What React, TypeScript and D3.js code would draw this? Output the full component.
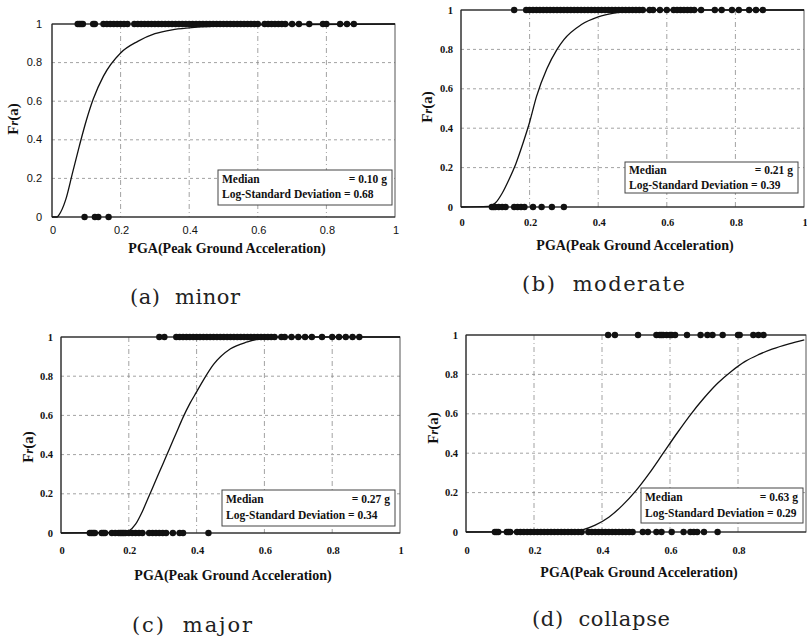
import React from "react";
import * as d3 from "d3";

// ---------- data ----------
const xTickValues = [0, 0.2, 0.4, 0.6, 0.8, 1];
const yTickValues = [0, 0.2, 0.4, 0.6, 0.8, 1];
const yTickLabels = ["0", "0.2", "0.4", "0.6", "0.8", "1"];
const xTickLabelsFull = ["0", "0.2", "0.4", "0.6", "0.8", "1"];
const xTickLabelsNoOne = ["0", "0.2", "0.4", "0.6", "0.8", ""];

const captions = ["(a)  minor", "(b)  moderate", "(c)  major", "(d)  collapse"];
const medians = ["0.10", "0.21", "0.27", "0.63"];
const logStd = ["0.68", "0.39", "0.34", "0.29"];

// fragility curves
const curveXA = [0, 0.015, 0.02, 0.04, 0.06, 0.08, 0.1, 0.12, 0.15, 0.2, 0.25, 0.3, 0.35, 0.4, 0.5, 0.6, 1.0];
const curveYA = [0, 0, 0.01, 0.09, 0.23, 0.37, 0.5, 0.61, 0.73, 0.85, 0.91, 0.95, 0.97, 0.98, 0.99, 0.996, 1.0];

const curveXB = [0, 0.08, 0.1, 0.12, 0.14, 0.16, 0.18, 0.2, 0.22, 0.25, 0.28, 0.3, 0.35, 0.4, 0.45, 0.5, 0.6, 1.0];
const curveYB = [0, 0.003, 0.02, 0.07, 0.14, 0.22, 0.32, 0.43, 0.56, 0.7, 0.8, 0.85, 0.925, 0.965, 0.985, 0.995, 1.0, 1.0];

const curveXC = [0, 0.19, 0.2, 0.22, 0.24, 0.26, 0.28, 0.3, 0.32, 0.34, 0.36, 0.38, 0.4, 0.42, 0.45, 0.5, 0.55, 0.6, 0.65, 1.0];
const curveYC = [0, 0.003, 0.01, 0.045, 0.11, 0.19, 0.27, 0.35, 0.43, 0.51, 0.59, 0.66, 0.72, 0.78, 0.86, 0.94, 0.975, 0.995, 1.0, 1.0];

const curveXD = [0, 0.3, 0.34, 0.38, 0.42, 0.46, 0.5, 0.54, 0.58, 0.62, 0.66, 0.7, 0.74, 0.78, 0.82, 0.86, 0.9, 0.95, 0.995];
const curveYD = [0, 0.002, 0.01, 0.035, 0.075, 0.135, 0.21, 0.3, 0.4, 0.5, 0.595, 0.68, 0.755, 0.815, 0.865, 0.9, 0.928, 0.955, 0.975];

// observed damage states (1 = reached, 0 = not reached)
const passA = [0.075, 0.08, 0.085, 0.09, 0.12, 0.125, 0.15, 0.16, 0.17, 0.18, 0.19, 0.2, 0.21, 0.22, 0.24, 0.25, 0.26, 0.27, 0.28, 0.29, 0.3, 0.31, 0.32, 0.33, 0.34, 0.35, 0.36, 0.37, 0.38, 0.39, 0.4, 0.41, 0.42, 0.43, 0.44, 0.45, 0.46, 0.47, 0.48, 0.49, 0.5, 0.51, 0.52, 0.53, 0.54, 0.55, 0.56, 0.57, 0.58, 0.59, 0.6, 0.62, 0.63, 0.64, 0.65, 0.66, 0.67, 0.68, 0.7, 0.72, 0.75, 0.79, 0.8, 0.84, 0.86, 0.88];
const failA = [0.095, 0.125, 0.135, 0.165];

const passB = [0.155, 0.19, 0.2, 0.21, 0.22, 0.23, 0.24, 0.25, 0.26, 0.27, 0.28, 0.29, 0.3, 0.31, 0.32, 0.33, 0.34, 0.35, 0.36, 0.37, 0.38, 0.39, 0.4, 0.41, 0.42, 0.43, 0.44, 0.45, 0.46, 0.47, 0.48, 0.49, 0.5, 0.51, 0.52, 0.53, 0.55, 0.56, 0.58, 0.6, 0.62, 0.63, 0.64, 0.65, 0.66, 0.67, 0.68, 0.7, 0.74, 0.76, 0.79, 0.81, 0.84, 0.86, 0.88];
const failB = [0.09, 0.095, 0.1, 0.11, 0.12, 0.13, 0.155, 0.165, 0.175, 0.185, 0.21, 0.235, 0.265, 0.3];

const passC = [0.29, 0.305, 0.34, 0.35, 0.36, 0.37, 0.38, 0.39, 0.4, 0.41, 0.42, 0.43, 0.44, 0.45, 0.46, 0.47, 0.48, 0.49, 0.5, 0.51, 0.52, 0.53, 0.54, 0.55, 0.56, 0.57, 0.58, 0.59, 0.6, 0.61, 0.62, 0.63, 0.65, 0.66, 0.68, 0.7, 0.72, 0.74, 0.77, 0.8, 0.82, 0.84, 0.86, 0.88];
const failC = [0.085, 0.09, 0.095, 0.1, 0.12, 0.125, 0.13, 0.15, 0.16, 0.17, 0.175, 0.18, 0.185, 0.19, 0.2, 0.21, 0.22, 0.23, 0.24, 0.26, 0.27, 0.28, 0.29, 0.3, 0.31, 0.33, 0.35, 0.36, 0.435];

const passD = [0.418, 0.438, 0.506, 0.56, 0.57, 0.575, 0.58, 0.59, 0.6, 0.605, 0.615, 0.65, 0.69, 0.71, 0.725, 0.755, 0.8, 0.805, 0.845, 0.86, 0.875];
const failD = [0.085, 0.09, 0.095, 0.12, 0.125, 0.13, 0.15, 0.16, 0.17, 0.18, 0.19, 0.2, 0.21, 0.22, 0.23, 0.24, 0.25, 0.26, 0.27, 0.28, 0.29, 0.3, 0.31, 0.32, 0.33, 0.34, 0.36, 0.37, 0.38, 0.39, 0.4, 0.41, 0.42, 0.43, 0.44, 0.45, 0.46, 0.47, 0.48, 0.49, 0.52, 0.535, 0.56, 0.575, 0.605, 0.64, 0.66, 0.67, 0.68, 0.7, 0.74];

// ---------- layout ----------
type Layout = {
  x0: number; x1: number; yb: number; yt: number;
  tickFont: string; tickWeight: string; tickSize: number;
  yTickRight: number; xTickBase: number;
  yLabelX: number; yLabelY: number;
  xLabelX: number; xLabelY: number;
  capX: number; capY: number; capW: number;
  box: [number, number, number, number];
  line1: number; line2: number;
  xTickLabels: string[];
};

const layouts: Layout[] = [
  { x0: 52, x1: 395, yb: 217, yt: 24, tickFont: "'Liberation Sans', Arial, sans-serif", tickWeight: "normal", tickSize: 11,
    yTickRight: 42, xTickBase: 234, yLabelX: 18, yLabelY: 119, xLabelX: 227, xLabelY: 253,
    capX: 130, capY: 304, capW: 110, box: [218, 170, 174, 35], line1: 183, line2: 198, xTickLabels: xTickLabelsFull },
  { x0: 461, x1: 804, yb: 207, yt: 10, tickFont: "'Liberation Serif', 'Times New Roman', serif", tickWeight: "bold", tickSize: 10.5,
    yTickRight: 453, xTickBase: 226, yLabelX: 432, yLabelY: 107, xLabelX: 635, xLabelY: 250,
    capX: 522, capY: 291, capW: 163, box: [625, 162, 173, 31], line1: 174, line2: 189, xTickLabels: xTickLabelsFull },
  { x0: 61, x1: 400, yb: 533, yt: 337, tickFont: "'Liberation Serif', 'Times New Roman', serif", tickWeight: "bold", tickSize: 10.5,
    yTickRight: 53, xTickBase: 554, yLabelX: 33, yLabelY: 447, xLabelX: 233, xLabelY: 580,
    capX: 132, capY: 632, capW: 120, box: [222, 490, 173, 36], line1: 503, line2: 519, xTickLabels: xTickLabelsFull },
  { x0: 466, x1: 806, yb: 532, yt: 335, tickFont: "'Liberation Serif', 'Times New Roman', serif", tickWeight: "bold", tickSize: 10.5,
    yTickRight: 458, xTickBase: 554, yLabelX: 438, yLabelY: 428, xLabelX: 639, xLabelY: 577,
    capX: 532, capY: 626, capW: 138, box: [641, 488, 162, 35], line1: 501, line2: 517, xTickLabels: xTickLabelsNoOne },
];

const curvesX = [curveXA, curveXB, curveXC, curveXD];
const curvesY = [curveYA, curveYB, curveYC, curveYD];
const passes = [passA, passB, passC, passD];
const fails = [failA, failB, failC, failD];

const serif = "'Liberation Serif', 'Times New Roman', serif";

function Panel({ i }: { i: number }) {
  const L = layouts[i];
  const x = d3.scaleLinear().domain([0, 1]).range([L.x0, L.x1]);
  const y = d3.scaleLinear().domain([0, 1]).range([L.yb, L.yt]);
  const pts = curvesX[i].map((v, k) => [v, curvesY[i][k]] as [number, number]);
  const line = d3.line<[number, number]>().x(d => x(d[0])).y(d => y(d[1])).curve(d3.curveMonotoneX);
  const [bx, by, bw, bh] = L.box;
  return (
    <g>
      {/* grid */}
      {yTickValues.filter(v => v > 0 && v < 1).map(v => (
        <line key={"gy" + v} x1={L.x0} x2={L.x1} y1={y(v)} y2={y(v)} stroke="#8a8a8a" strokeWidth={0.8} strokeDasharray="3,3" />
      ))}
      {xTickValues.filter(v => v > 0 && v < 1).map(v => (
        <line key={"gx" + v} x1={x(v)} x2={x(v)} y1={L.yt} y2={L.yb} stroke="#8a8a8a" strokeWidth={0.8} strokeDasharray="5,3,1,3" />
      ))}
      {/* frame */}
      <rect x={L.x0} y={L.yt} width={L.x1 - L.x0} height={L.yb - L.yt} fill="none" stroke="#555" strokeWidth={1} />
      <line x1={L.x0} x2={L.x1} y1={L.yb} y2={L.yb} stroke="#222" strokeWidth={1.2} />
      <line x1={L.x0} x2={L.x1} y1={L.yt} y2={L.yt} stroke="#222" strokeWidth={1.2} />
      <line x1={L.x0} x2={L.x0} y1={L.yt} y2={L.yb} stroke="#222" strokeWidth={1} />
      {/* tick labels */}
      {yTickValues.map((v, k) => (
        <text key={"ty" + v} x={L.yTickRight} y={y(v) + 3.5} textAnchor="end" fontFamily={L.tickFont} fontWeight={L.tickWeight} fontSize={L.tickSize} fill="#111">{yTickLabels[k]}</text>
      ))}
      {xTickValues.map((v, k) => (
        L.xTickLabels[k] ? <text key={"tx" + v} x={x(v) + 1} y={L.xTickBase} textAnchor="middle" fontFamily={L.tickFont} fontWeight={L.tickWeight} fontSize={L.tickSize} fill="#111">{L.xTickLabels[k]}</text> : null
      ))}
      {/* curve */}
      <path d={line(pts) || ""} fill="none" stroke="#111" strokeWidth={1.3} />
      {/* observations */}
      {passes[i].map((v, k) => (
        <circle key={"p" + k} cx={x(v)} cy={y(1)} r={3.2} fill="#111" />
      ))}
      {fails[i].map((v, k) => (
        <circle key={"f" + k} cx={x(v)} cy={y(0)} r={3.2} fill="#111" />
      ))}
      {/* legend */}
      <rect x={bx} y={by} width={bw} height={bh} fill="#fff" stroke="#444" strokeWidth={1} />
      <text x={bx + 4} y={L.line1} fontFamily={serif} fontWeight="bold" fontSize={11.5} fill="#111">Median</text>
      <text x={bx + bw - 5} y={L.line1} textAnchor="end" fontFamily={serif} fontWeight="bold" fontSize={11.5} fill="#111">{"= " + medians[i] + " g"}</text>
      <text x={bx + 4} y={L.line2} fontFamily={serif} fontWeight="bold" fontSize={11.5} fill="#111">{"Log-Standard Deviation = " + logStd[i]}</text>
      {/* axis labels */}
      <text transform={`translate(${L.yLabelX},${L.yLabelY}) rotate(-90)`} textAnchor="middle" fontFamily={serif} fontWeight="bold" fontSize={15} fill="#111">
        F<tspan fontStyle="italic" fontSize={12}>r</tspan>(a)
      </text>
      <text x={L.xLabelX} y={L.xLabelY} textAnchor="middle" fontFamily={serif} fontWeight="bold" fontSize={14} fill="#111">PGA(Peak Ground Acceleration)</text>
      {/* caption */}
      <text x={L.capX} y={L.capY} fontFamily="'DejaVu Serif', serif" fontSize={21} fill="#222" textLength={L.capW} lengthAdjust="spacing" style={{ whiteSpace: "pre" }}>{captions[i]}</text>
    </g>
  );
}

export default function App() {
  return (
    <svg width={807} height={637} style={{ position: "absolute", left: 0, top: 0, background: "#fff" }}>
      <rect x={0} y={0} width={807} height={637} fill="#fff" />
      {[0, 1, 2, 3].map(i => <Panel key={i} i={i} />)}
    </svg>
  );
}
